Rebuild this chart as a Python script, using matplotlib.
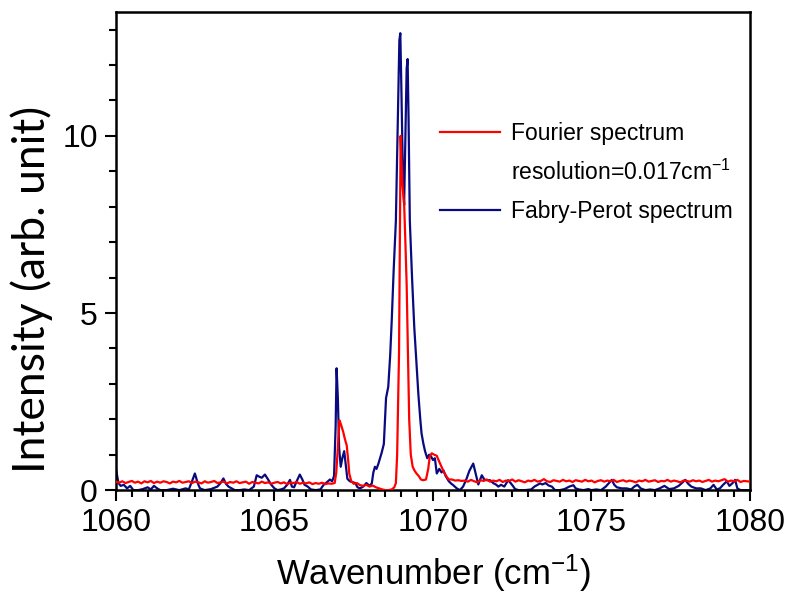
import matplotlib.pyplot as plt
from matplotlib.lines import Line2D

plt.rcParams["mathtext.fontset"] = "custom"
plt.rcParams["mathtext.rm"] = "Liberation Sans"
plt.rcParams["mathtext.it"] = "Liberation Sans:italic"

# Fourier spectrum (red): noisy baseline sampled every 0.1 cm-1, peaks read point by point
red_left_start = 1060.0
red_left_y = [0.24, 0.21, 0.25, 0.20, 0.23, 0.26, 0.21, 0.24, 0.19, 0.25,
              0.22, 0.26, 0.20, 0.24, 0.21, 0.25, 0.23, 0.19, 0.24, 0.22,
              0.26, 0.21, 0.23, 0.25, 0.20, 0.24, 0.22, 0.19, 0.25, 0.21,
              0.23, 0.26, 0.20, 0.22, 0.24, 0.19, 0.23, 0.21, 0.25, 0.20,
              0.22, 0.24, 0.18, 0.23, 0.21, 0.19, 0.24, 0.20, 0.22, 0.18,
              0.21, 0.23, 0.19, 0.22, 0.17, 0.21, 0.20, 0.23, 0.18, 0.21,
              0.19, 0.22, 0.17, 0.20, 0.18, 0.21, 0.17, 0.19, 0.18]
red_peak_x = [1066.9, 1066.95, 1067.0, 1067.05, 1067.1, 1067.17, 1067.22, 1067.28,
              1067.33, 1067.36, 1067.42, 1067.5, 1067.6, 1067.7, 1067.8, 1067.9,
              1068.0, 1068.1, 1068.2, 1068.3, 1068.4, 1068.5, 1068.6, 1068.7,
              1068.78, 1068.83, 1068.87, 1068.9, 1068.93, 1068.96, 1068.98, 1069.0,
              1069.04, 1069.09, 1069.13, 1069.17, 1069.21, 1069.25, 1069.3, 1069.36,
              1069.42, 1069.48, 1069.55, 1069.62, 1069.69, 1069.78, 1069.85, 1069.9,
              1069.96, 1070.04, 1070.12, 1070.2, 1070.27, 1070.35, 1070.43, 1070.5,
              1070.6, 1070.7, 1070.8, 1070.9]
red_peak_y = [0.20, 0.50, 1.20, 1.97, 1.85, 1.64, 1.45, 1.26,
              0.80, 0.47, 0.26, 0.18, 0.20, 0.14, 0.12, 0.15,
              0.10, 0.13, 0.08, 0.05, 0.02, 0.00, 0.00, 0.02,
              0.08, 0.20, 1.00, 2.50, 3.90, 7.50, 10.0, 9.40,
              8.60, 8.10, 7.00, 5.80, 3.90, 2.00, 1.00, 0.66,
              0.55, 0.47, 0.40, 0.30, 0.28, 0.30, 0.60, 0.95,
              1.04, 1.00, 0.97, 0.80, 0.66, 0.50, 0.38, 0.30,
              0.30, 0.27, 0.28, 0.26]
red_right_start = 1071.0
red_right_y = [0.27, 0.24, 0.29, 0.25, 0.22, 0.28, 0.26, 0.30, 0.24, 0.27,
               0.25, 0.29, 0.23, 0.27, 0.26, 0.30, 0.24, 0.28, 0.25, 0.22,
               0.27, 0.25, 0.29, 0.24, 0.26, 0.31, 0.25, 0.23, 0.28, 0.26,
               0.24, 0.29, 0.25, 0.27, 0.23, 0.28, 0.26, 0.24, 0.29, 0.25,
               0.27, 0.22, 0.26, 0.28, 0.24, 0.27, 0.25, 0.29, 0.23, 0.26,
               0.28, 0.24, 0.27, 0.25, 0.22, 0.27, 0.25, 0.29, 0.24, 0.26,
               0.28, 0.23, 0.26, 0.25, 0.29, 0.24, 0.27, 0.25, 0.22, 0.27,
               0.26, 0.24, 0.28, 0.25, 0.27, 0.23, 0.26, 0.29, 0.24, 0.27,
               0.25, 0.28, 0.31, 0.24, 0.27, 0.25, 0.29, 0.23, 0.26, 0.25,
               0.24]

# Fabry-Perot spectrum (blue)
blue_x = [1060.0, 1060.03, 1060.08, 1060.15, 1060.25, 1060.35, 1060.45, 1060.55,
          1060.7, 1060.85, 1061.0, 1061.1, 1061.2, 1061.3, 1061.4, 1061.6,
          1061.8, 1062.0, 1062.2, 1062.3, 1062.4, 1062.49, 1062.58, 1062.65,
          1062.8, 1063.0, 1063.2, 1063.3, 1063.39, 1063.47, 1063.55, 1063.65,
          1063.75, 1063.9, 1064.05, 1064.2, 1064.35, 1064.44, 1064.52, 1064.6,
          1064.7, 1064.8, 1064.9, 1065.0, 1065.1, 1065.2, 1065.3, 1065.4,
          1065.49, 1065.55, 1065.62, 1065.7, 1065.8, 1065.88, 1065.95, 1066.05,
          1066.15, 1066.3, 1066.45, 1066.55, 1066.65, 1066.75, 1066.82, 1066.88,
          1066.93, 1066.96, 1067.0, 1067.04, 1067.09, 1067.14, 1067.2, 1067.25,
          1067.3, 1067.38, 1067.48, 1067.55, 1067.62, 1067.7, 1067.8, 1067.9,
          1068.0, 1068.07, 1068.12, 1068.17, 1068.22, 1068.28, 1068.33, 1068.38,
          1068.45, 1068.52, 1068.59, 1068.65, 1068.7, 1068.76, 1068.83, 1068.87,
          1068.91, 1068.94, 1068.97, 1069.0, 1069.05, 1069.09, 1069.13, 1069.17,
          1069.2, 1069.23, 1069.27, 1069.34, 1069.41, 1069.48, 1069.54, 1069.6,
          1069.64, 1069.7, 1069.75, 1069.82, 1069.88, 1069.94, 1070.0, 1070.06,
          1070.12, 1070.2, 1070.27, 1070.33, 1070.4, 1070.5, 1070.58, 1070.64,
          1070.75, 1070.85, 1070.95, 1071.05, 1071.15, 1071.27, 1071.35, 1071.43,
          1071.54, 1071.62, 1071.7, 1071.8, 1071.9, 1072.0, 1072.06, 1072.15,
          1072.25, 1072.37, 1072.45, 1072.52, 1072.59, 1072.7, 1072.9, 1073.1,
          1073.2, 1073.3, 1073.38, 1073.45, 1073.55, 1073.65, 1073.75, 1073.85,
          1074.0, 1074.15, 1074.3, 1074.43, 1074.5, 1074.6, 1074.75, 1074.9,
          1075.0, 1075.15, 1075.3, 1075.45, 1075.55, 1075.64, 1075.72, 1075.8,
          1075.95, 1076.1, 1076.25, 1076.35, 1076.45, 1076.55, 1076.7, 1076.85,
          1077.0, 1077.15, 1077.3, 1077.45, 1077.6, 1077.75, 1077.85, 1077.96,
          1078.05, 1078.15, 1078.3, 1078.45, 1078.6, 1078.75, 1078.85, 1078.95,
          1079.05, 1079.15, 1079.27, 1079.35, 1079.45, 1079.53, 1079.6, 1079.7,
          1079.97]
blue_y = [0.60, 0.45, 0.20, 0.12, 0.15, 0.05, 0.12, 0.00,
          0.00, 0.03, 0.08, 0.02, 0.12, 0.05, 0.00, 0.00,
          0.04, 0.00, 0.05, 0.02, 0.25, 0.47, 0.20, 0.05,
          0.00, 0.03, 0.10, 0.20, 0.33, 0.18, 0.10, 0.05,
          0.00, 0.00, 0.02, 0.00, 0.10, 0.42, 0.38, 0.35,
          0.44, 0.30, 0.15, 0.05, 0.00, 0.02, 0.05, 0.15,
          0.29, 0.10, 0.08, 0.25, 0.44, 0.30, 0.15, 0.10,
          0.02, 0.00, 0.02, 0.15, 0.22, 0.30, 0.25, 0.40,
          1.80, 3.44, 2.60, 1.20, 0.66, 0.90, 1.10, 0.70,
          0.32, 0.25, 0.22, 0.20, 0.08, 0.05, 0.10, 0.20,
          0.12, 0.19, 0.50, 0.66, 0.60, 0.75, 0.90, 1.05,
          1.30, 2.60, 2.92, 3.80, 4.80, 6.20, 7.60, 9.50,
          11.4, 12.7, 12.9, 11.5, 9.00, 8.05, 10.0, 11.9,
          12.17, 10.5, 7.60, 6.00, 4.60, 3.60, 2.70, 2.00,
          1.60, 1.30, 1.10, 0.90, 1.00, 0.95, 0.85, 0.90,
          0.47, 0.60, 0.50, 0.56, 0.40, 0.25, 0.18, 0.14,
          0.05, 0.00, 0.10, 0.30, 0.55, 0.75, 0.45, 0.16,
          0.42, 0.30, 0.28, 0.28, 0.20, 0.15, 0.10, 0.15,
          0.10, 0.28, 0.20, 0.12, 0.03, 0.00, 0.00, 0.02,
          0.10, 0.15, 0.19, 0.16, 0.20, 0.13, 0.10, 0.00,
          0.00, 0.03, 0.10, 0.14, 0.05, 0.02, 0.00, 0.03,
          0.00, 0.02, 0.00, 0.10, 0.20, 0.29, 0.15, 0.08,
          0.05, 0.05, 0.02, 0.10, 0.15, 0.05, 0.00, 0.02,
          0.00, 0.05, 0.12, 0.03, 0.05, 0.12, 0.20, 0.29,
          0.18, 0.10, 0.05, 0.05, 0.00, 0.05, 0.15, 0.02,
          0.05, 0.15, 0.25, 0.12, 0.20, 0.29, 0.05, 0.00,
          0.00]

red_x = ([round(red_left_start + 0.1 * i, 2) for i in range(len(red_left_y))]
         + red_peak_x
         + [round(red_right_start + 0.1 * i, 2) for i in range(len(red_right_y))])
red_y = red_left_y + red_peak_y + red_right_y

fig = plt.figure(figsize=(7.94, 5.97), dpi=100)
ax = fig.add_axes([0.146, 0.179, 0.7986, 0.801])

ax.plot(blue_x, blue_y, color="#0a0a80", lw=1.6, zorder=2)
ax.plot(red_x, red_y, color="#ff0000", lw=1.6, zorder=3)

ax.set_xlim(1060, 1080)
ax.set_ylim(0, 13.5)
ax.set_xticks([1060, 1065, 1070, 1075, 1080])
ax.set_xticks([1060 + 0.5 * i for i in range(41)], minor=True)
ax.set_yticks([0, 5, 10])
ax.set_yticks(list(range(14)), minor=True)

for s in ax.spines.values():
    s.set_linewidth(1.8)
ax.tick_params(which="both", direction="out", width=1.5, top=False, right=False,
               labelsize=23)
ax.tick_params(which="major", length=8, pad=5)
ax.tick_params(which="minor", length=5)
for lab in ax.get_xticklabels() + ax.get_yticklabels():
    lab.set_family("Liberation Sans")

ax.set_xlabel("Wavenumber (cm$^{-1}$)", fontsize=25, family="Liberation Sans",
              labelpad=10)
ax.set_ylabel("Intensity (arb. unit)", fontsize=32, family="Lato")
ax.yaxis.set_label_coords(-0.10, 0.42)

handles = [Line2D([], [], color="#ff0000", lw=1.6),
           Line2D([], [], color="none"),
           Line2D([], [], color="#0a0a80", lw=1.6)]
labels = ["Fourier spectrum", "resolution=0.017cm$^{-1}$", "Fabry-Perot spectrum"]
leg = ax.legend(handles, labels, loc="upper left", bbox_to_anchor=(0.511, 0.77),
                frameon=False, borderpad=0, borderaxespad=0,
                handlelength=2.6, handletextpad=0.5, labelspacing=0.65,
                prop={"family": "Liberation Sans", "size": 16.5})

fig.savefig("out.png", dpi=100)
